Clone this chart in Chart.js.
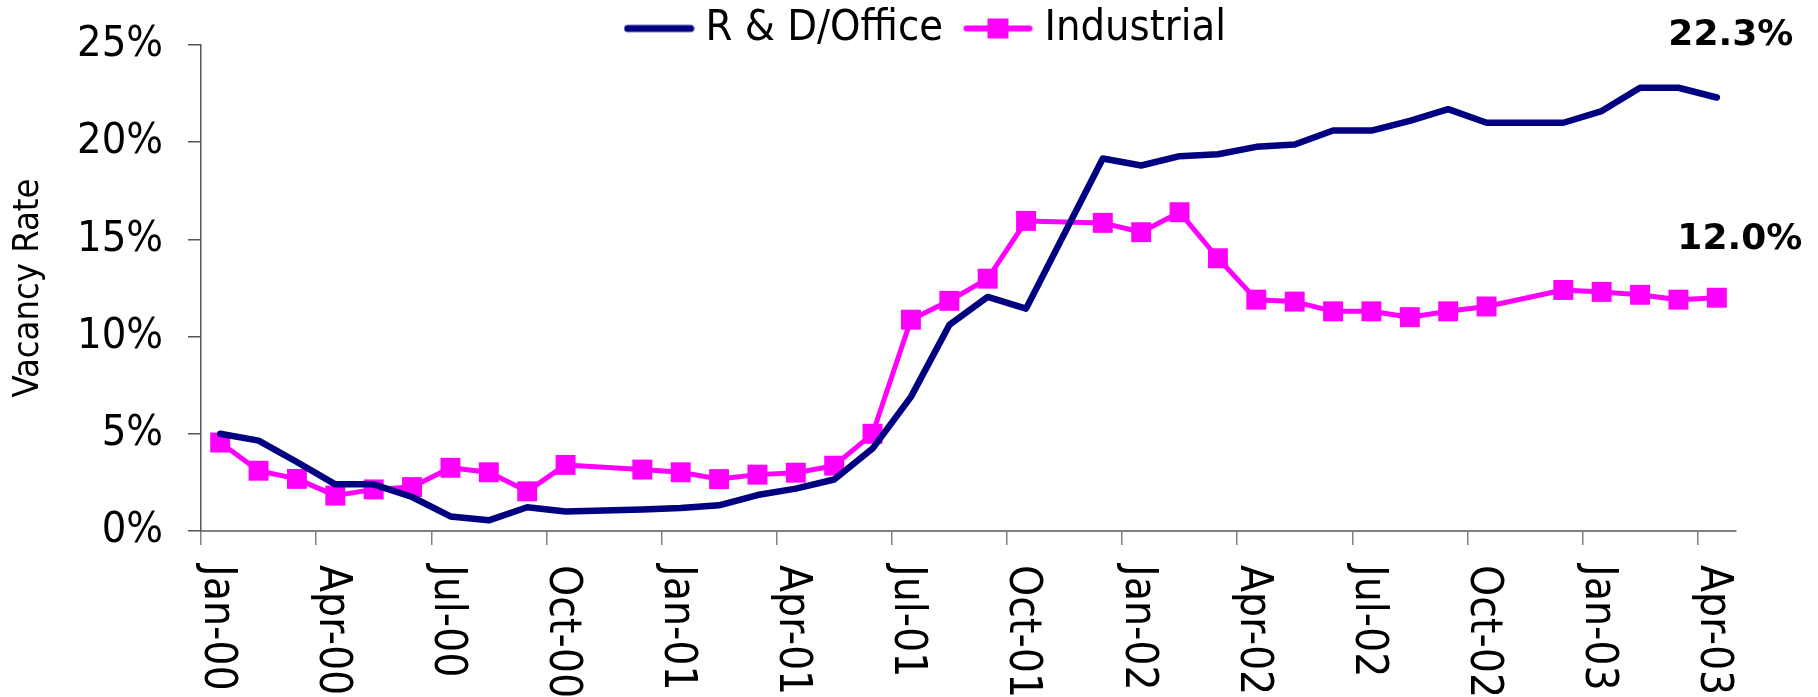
<!DOCTYPE html>
<html>
<head>
<meta charset="utf-8">
<script src="https://cdn.jsdelivr.net/npm/chart.js@4.4.1/dist/chart.umd.min.js"></script>
<style>
  html, body { margin: 0; padding: 0; background: #fff; }
  #wrap { width: 1818px; height: 697px; }
</style>
</head>
<body>
<div id="wrap"><canvas id="vacancyChart" width="1818" height="697"></canvas></div>
<script>
// Monthly periods on the date axis
const months = [
  'Jan-00', 'Feb-00', 'Mar-00', 'Apr-00', 'May-00', 'Jun-00', 'Jul-00', 'Aug-00', 'Sep-00', 'Oct-00', 'Nov-00', 'Dec-00',
  'Jan-01', 'Feb-01', 'Mar-01', 'Apr-01', 'May-01', 'Jun-01', 'Jul-01', 'Aug-01', 'Sep-01', 'Oct-01', 'Nov-01', 'Dec-01',
  'Jan-02', 'Feb-02', 'Mar-02', 'Apr-02', 'May-02', 'Jun-02', 'Jul-02', 'Aug-02', 'Sep-02', 'Oct-02', 'Nov-02', 'Dec-02',
  'Jan-03', 'Feb-03', 'Mar-03', 'Apr-03'
];

// Labelled ticks (quarterly)
const tickLabels = [
  'Jan-00', 'Apr-00', 'Jul-00', 'Oct-00', 'Jan-01', 'Apr-01', 'Jul-01',
  'Oct-01', 'Jan-02', 'Apr-02', 'Jul-02', 'Oct-02', 'Jan-03', 'Apr-03'
];

// Vacancy rate (%), null = no survey that month
const rdOffice = [
  5.0, 4.65, 3.55, 2.4, 2.4, 1.75, 0.75, 0.55, 1.22, 1.0, null, 1.1,
  1.18, 1.32, 1.85, 2.18, 2.65, 4.24, 6.9, 10.6, 12.04, 11.44, null, 19.16,
  18.8, 19.28, 19.38, 19.76, 19.88, 20.6, 20.6, 21.1, 21.7, 21.0, 21.0, 21.0,
  21.6, 22.8, 22.8, 22.3
];

const industrial = [
  4.55, 3.1, 2.68, 1.82, 2.14, 2.26, 3.25, 3.02, 2.04, 3.4, null, 3.16,
  3.02, 2.67, 2.9, 3.0, 3.36, 5.0, 10.87, 11.84, 12.98, 15.95, null, 15.85,
  15.37, 16.4, 14.03, 11.9, 11.8, 11.3, 11.3, 11.0, 11.3, 11.55, null, 12.4,
  12.3, 12.15, 11.9, 12.0
];

const yTicks = [0, 5, 10, 15, 20, 25];

const FONT = "'DejaVu Sans Condensed', 'Liberation Sans', sans-serif";
const NAVY = '#000080';
const MAGENTA = '#FF00FF';

// each month is plotted in the middle of its slot on the date axis
function toPoints(values) {
  return months
    .map((m, i) => ({ x: i + 0.5, y: values[i] }))
    .filter(p => p.y !== null);
}

// small legend swatches: line, optionally with the square marker
function legendIcon(color, lineWidth, withMarker) {
  const c = document.createElement('canvas');
  c.width = 71;
  c.height = 22;
  const g = c.getContext('2d');
  g.strokeStyle = color;
  g.lineWidth = lineWidth;
  g.lineCap = 'round';
  g.beginPath();
  g.moveTo(4, 11);
  g.lineTo(67, 11);
  g.stroke();
  if (withMarker) {
    g.fillStyle = color;
    g.fillRect(25, 1, 21, 20);
  }
  return c;
}
const legendIcons = [legendIcon(NAVY, 7, false), legendIcon(MAGENTA, 6, true)];

// rotated date labels, reading downwards like the original
const xLabelPlugin = {
  id: 'xLabels',
  afterDraw(chart) {
    const { ctx, chartArea } = chart;
    const x = chart.scales.x;
    ctx.save();
    ctx.font = '44px ' + FONT;
    ctx.fillStyle = '#000';
    ctx.textAlign = 'left';
    ctx.textBaseline = 'middle';
    tickLabels.forEach(label => {
      const px = x.getPixelForValue(months.indexOf(label));
      ctx.save();
      ctx.translate(px + 15, chartArea.bottom + 34);
      ctx.rotate(Math.PI / 2);
      ctx.fillText(label, 0, 0);
      ctx.restore();
    });
    ctx.restore();
  }
};

// bold latest value next to the end of each line
const endLabelOffsets = [[14, -62], [23, -58]];
const endLabelPlugin = {
  id: 'endLabels',
  afterDatasetsDraw(chart) {
    const ctx = chart.ctx;
    ctx.save();
    ctx.font = "bold 36px 'DejaVu Sans', Verdana, sans-serif";
    ctx.fillStyle = '#000';
    ctx.textAlign = 'center';
    ctx.textBaseline = 'middle';
    chart.data.datasets.forEach((ds, i) => {
      const meta = chart.getDatasetMeta(i);
      const pt = meta.data[meta.data.length - 1];
      const last = ds.data[ds.data.length - 1].y;
      const off = endLabelOffsets[i];
      ctx.fillText(last.toFixed(1) + '%', pt.x + off[0], pt.y + off[1]);
    });
    ctx.restore();
  }
};

// nudge the legend to where the original sits
const legendShiftPlugin = {
  id: 'legendShift',
  afterLayout(chart) {
    chart.legend.left += 62;
    chart.legend.right += 62;
  }
};

const data = {
  datasets: [{
    label: 'R & D/Office',
    data: toPoints(rdOffice),
    borderColor: NAVY,
    backgroundColor: NAVY,
    borderWidth: 6.5,
    borderCapStyle: 'round',
    borderJoinStyle: 'round',
    pointRadius: 0,
    tension: 0
  }, {
    label: 'Industrial',
    data: toPoints(industrial),
    borderColor: MAGENTA,
    backgroundColor: MAGENTA,
    borderWidth: 5,
    borderJoinStyle: 'round',
    pointStyle: 'rect',
    pointRadius: 14.1,
    pointBorderWidth: 0,
    pointBackgroundColor: MAGENTA,
    tension: 0
  }]
};

const options = {
  responsive: false,
  animation: false,
  devicePixelRatio: 1,
  layout: { padding: { top: -23, right: 82, bottom: 0, left: 0 } },
  plugins: {
    tooltip: { enabled: false },
    legend: {
      position: 'top',
      maxHeight: 68,
      labels: {
        usePointStyle: true,
        pointStyleWidth: 50,
        padding: 30,
        color: '#000',
        font: { family: FONT, size: 43 },
        generateLabels: chart => chart.data.datasets.map((ds, i) => ({
          text: ds.label,
          pointStyle: legendIcons[i],
          fillStyle: ds.borderColor,
          strokeStyle: ds.borderColor,
          lineWidth: 0,
          hidden: false,
          datasetIndex: i
        }))
      }
    }
  },
  scales: {
    x: {
      type: 'linear',
      min: 0,
      max: months.length,
      afterBuildTicks: scale => {
        scale.ticks = tickLabels.map(l => ({ value: months.indexOf(l) }));
      },
      afterFit: scale => { scale.height = 166; },
      ticks: { display: false },
      grid: { drawOnChartArea: false, drawTicks: true, tickLength: 14, color: '#808080', lineWidth: 1.5 },
      border: { display: true, color: '#808080', width: 2 }
    },
    y: {
      min: 0,
      max: 25,
      afterBuildTicks: scale => {
        scale.ticks = yTicks.map(v => ({ value: v }));
      },
      afterFit: scale => {
        scale.width = 201;
        // the 25% label may overhang into the legend band, as in the original
        scale.paddingTop = 0;
        scale.paddingBottom = 0;
      },
      ticks: {
        padding: 25,
        color: '#000',
        font: { family: FONT, size: 43 },
        callback: v => v + '%'
      },
      grid: { drawOnChartArea: false, drawTicks: true, tickLength: 13, color: '#555', lineWidth: 1.5 },
      border: { display: true, color: '#555', width: 1.5 },
      title: {
        display: true,
        text: 'Vacancy Rate',
        color: '#000',
        font: { family: FONT, size: 36 },
        padding: { top: 7, bottom: 0 }
      }
    }
  }
};

new Chart(document.getElementById('vacancyChart'), {
  type: 'line',
  data,
  options,
  plugins: [xLabelPlugin, endLabelPlugin, legendShiftPlugin]
});
</script>
</body>
</html>
